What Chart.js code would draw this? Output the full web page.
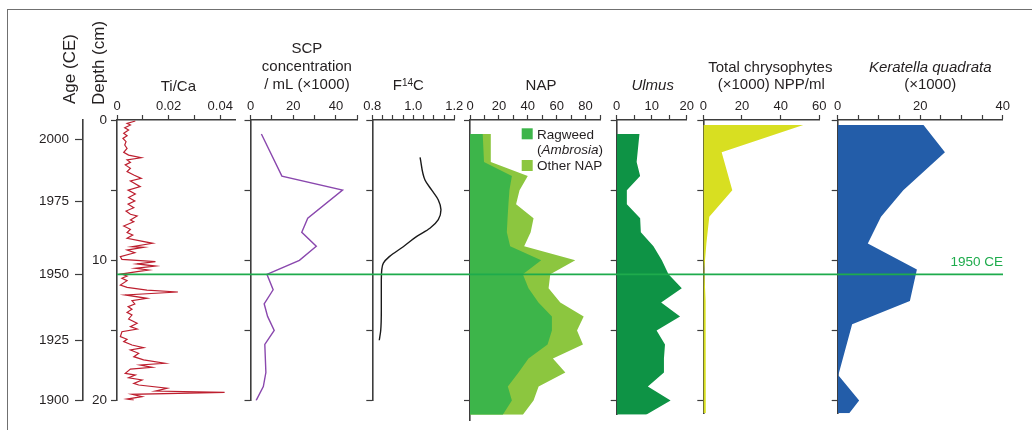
<!DOCTYPE html>
<html>
<head>
<meta charset="utf-8">
<title>Sediment core profiles</title>
<script src="https://cdn.jsdelivr.net/npm/chart.js@4.4.1/dist/chart.umd.min.js"></script>
<style>
  html, body { margin: 0; padding: 0; background: #fff; }
  #wrap { position: relative; width: 1032px; height: 430px; overflow: hidden; background: #fff; }
  #frame { position: absolute; left: 7px; top: 9px; width: 1100px; height: 500px;
           border-left: 1.5px solid #707070; border-top: 1.5px solid #707070; }
  #wrap canvas { position: absolute; left: 0; top: 0; }
</style>
</head>
<body>
<div id="wrap"><div id="frame"></div></div>
<script>
// ---------------- data ----------------
// Ti/Ca XRF ratio against core depth (cm)
const tiDepth = [0.07,0.24,0.36,0.55,0.71,0.95,1.12,1.31,1.54,1.78,2.02,2.30,2.50,2.69,2.85,3.02,3.20,3.44,3.68,3.92,
  4.16,4.35,4.75,5.00,5.27,5.53,5.77,6.00,6.25,6.49,6.72,6.84,7.13,7.25,7.55,7.79,8.03,8.20,8.43,8.62,
  8.79,9.03,9.08,9.27,9.46,9.74,9.93,10.10,10.26,10.41,10.57,10.69,10.81,10.98,11.12,11.28,11.45,11.76,11.93,12.12,
  12.26,12.47,12.71,12.88,13.11,13.30,13.49,13.71,13.90,14.18,14.49,14.73,14.90,15.09,15.44,15.63,15.80,16.04,16.23,16.39,
  16.63,16.87,17.10,17.34,17.46,17.63,17.75,18.06,18.18,18.37,18.53,18.77,18.89,19.12,19.32,19.41,19.55,19.72,19.89,19.96];
const tiCa = [0.0071,0.0039,0.0052,0.0030,0.0045,0.0026,0.0039,0.0023,0.0035,0.0030,0.0039,0.0026,0.0045,0.0094,0.0039,0.0052,0.0032,0.0052,0.0039,0.0065,
  0.0094,0.0052,0.0090,0.0043,0.0071,0.0045,0.0069,0.0043,0.0065,0.0035,0.0052,0.0078,0.0052,0.0065,0.0026,0.0052,0.0039,0.0061,0.0039,0.0090,
  0.0138,0.0058,0.0103,0.0039,0.0069,0.0013,0.0019,0.0149,0.0078,0.0149,0.0071,0.0123,0.0078,0.0017,0.0039,0.0019,0.0039,0.0013,0.0039,0.0116,
  0.0236,0.0032,0.0116,0.0058,0.0069,0.0043,0.0058,0.0039,0.0058,0.0045,0.0078,0.0052,0.0078,0.0019,0.0013,0.0039,0.0026,0.0058,0.0103,0.0052,
  0.0084,0.0065,0.0103,0.0185,0.0090,0.0136,0.0052,0.0032,0.0071,0.0045,0.0097,0.0065,0.0084,0.0194,0.0149,0.0417,0.0058,0.0097,0.0039,0.0065];

// Spheroidal carbonaceous particles (x1000 per mL)
const scpDepth = [1.0,4.0,5.0,7.0,8.0,9.0,10.0,11.0,12.1,13.1,14.0,15.0,16.0,18.0,19.0,20.0];
const scpConc  = [5.1,14.7,43.1,26.8,24.0,30.8,22.9,7.7,10.6,6.4,8.0,11.1,6.7,7.2,6.0,2.6];

// Fraction modern radiocarbon (F14C), smoothed profile
const f14cDepth = [2.66,4.28,5.0,5.7,6.4,7.1,7.72,8.3,9.03,9.74,10.2,10.7,11.6,13.5,15.0,15.7];
const f14c      = [1.033,1.057,1.090,1.122,1.135,1.122,1.081,1.017,0.951,0.883,0.854,0.846,0.844,0.844,0.841,0.834];

// Pollen samples (%)
const pollenDepth = [1,3,4,5,6,7,8,9,10,11,12,13,14,15,16,17,18,19,20,21];
const ragweed  = [8.8,9.7,29.0,27.3,26.6,26.0,25.5,27.8,49.3,36.6,40.5,47.4,56.7,56.7,53.7,40.5,33.6,26.2,29.0,22.7];
const otherNap = [5.6,4.7,11.0,7.0,5.3,18.0,16.5,9.7,23.6,19.0,13.9,15.1,22.0,17.4,24.5,16.9,32.4,21.3,15.0,13.9];
const ulmus    = [6.5,5.7,6.7,2.9,2.9,6.7,6.9,10.5,12.9,14.8,18.6,12.7,18.1,11.4,13.8,13.5,13.5,8.9,15.4,8.4];

// Non-pollen palynomorphs (x1000)
const nppDepth     = [0.36,2.3,5.0,6.9,8.8,10.65,12.9,14.56,18.2,20.0,20.9];
const chrysophytes = [51.7,9.5,15.0,3.1,1.6,0.5,1.2,1.2,1.3,1.3,1.3];
const keratella    = [20.8,26.0,15.9,10.5,7.3,19.2,17.5,3.5,0.15,5.2,2.8];

// Depth and age axes
const depthTicks  = [0,5,10,15,20];
const depthLabels = [0,10,20];
const ageLabels   = [2000,1975,1950,1925,1900];
const ageDepths   = [1.38,5.79,11.0,15.73,20.0];
const markerAge   = 1950;

// ---------------- styling ----------------
const FONT = '"Liberation Sans", Arial, Helvetica, sans-serif';
const INK = '#231f20';
const AXIS = '#3d3d3d';
const W = 1032, H = 430;
const TOP = 120;          // pixel row of depth 0
const PX_PER_CM = 14.03;  // vertical scale shared by every panel
const wrap = document.getElementById('wrap');

// Draws titles, legend swatches and other labels of a panel
const panelText = {
  id: 'panelText',
  afterDraw(chart, args, opts) {
    const items = opts.items || [];
    if (!items.length) return;
    const ctx = chart.ctx, a = chart.chartArea;
    const cx = (a.left + a.right) / 2;
    ctx.save();
    items.forEach(it => {
      if (it.rect) {
        ctx.fillStyle = it.datasetIndex !== undefined ? chart.data.datasets[it.datasetIndex].backgroundColor : it.color;
        ctx.fillRect(it.rect[0], it.rect[1], it.rect[2], it.rect[3]);
        return;
      }
      const size = it.size || 15;
      const runs = it.runs || [{ text: it.text, italic: it.italic }];
      const fonts = runs.map(r => (r.italic ? 'italic ' : '') + (r.size || size) + 'px ' + FONT);
      const widths = runs.map((r, i) => { ctx.font = fonts[i]; return ctx.measureText(r.text).width; });
      const total = widths.reduce((s, v) => s + v, 0);
      const ax = it.x !== undefined ? it.x : cx + (it.dx || 0);
      let x0 = it.align === 'left' ? 0 : it.align === 'right' ? -total : -total / 2;
      ctx.save();
      ctx.translate(ax, it.y);
      if (it.rotate) ctx.rotate(-Math.PI / 2);
      ctx.fillStyle = it.color || INK;
      ctx.textBaseline = 'alphabetic';
      ctx.textAlign = 'left';
      runs.forEach((r, i) => {
        ctx.font = fonts[i];
        ctx.fillText(r.text, x0, -(r.rise || 0));
        x0 += widths[i];
      });
      ctx.restore();
    });
    ctx.restore();
  }
};
Chart.register(panelText);

const pts = (depths, values) => depths.map((d, i) => ({ x: values[i], y: d }));

function makePanel(cfg) {
  const canvas = document.createElement('canvas');
  canvas.width = W; canvas.height = H;
  wrap.appendChild(canvas);
  const bottom = TOP + cfg.depthMax * PX_PER_CM;
  const XH = 30;
  const YW = cfg.depthAxisWidth || 10;
  const AW = cfg.ageAxisWidth || 0;
  const labelled = cfg.xLabels;
  const scales = {
    x: {
      type: 'linear', position: 'top', min: cfg.xMin, max: cfg.xMax,
      afterFit: s => { s.height = XH; },
      afterBuildTicks: s => { s.ticks = cfg.xTicks.map(v => ({ value: v })); },
      ticks: {
        autoSkip: false, maxRotation: 0, padding: 1, color: INK,
        font: { family: FONT, size: 13 },
        callback: v => labelled.includes(v) ? cfg.fmt(v) : ''
      },
      grid: { drawOnChartArea: false, drawTicks: true, tickLength: 5, tickColor: AXIS, tickWidth: 1.2 },
      border: { display: true, color: AXIS, width: 1.6 }
    },
    y: {
      type: 'linear', position: 'left', reverse: true, min: 0, max: cfg.depthMax, z: 1,
      afterFit: s => { s.width = YW; },
      afterBuildTicks: s => { s.ticks = depthTicks.map(v => ({ value: v })); },
      ticks: {
        display: !!cfg.depthLabels, padding: 4, color: INK,
        font: { family: FONT, size: 13.5 },
        callback: v => depthLabels.includes(v) ? String(v) : ''
      },
      grid: { drawOnChartArea: false, drawTicks: true, tickLength: 6, tickColor: AXIS, tickWidth: 1.2 },
      border: { display: true, color: AXIS, width: 1.6 }
    }
  };
  if (AW) {
    scales.age = {
      type: 'linear', position: 'left', reverse: true, min: 0, max: cfg.depthMax, weight: 1,
      afterFit: s => { s.width = AW; },
      afterBuildTicks: s => { s.ticks = ageDepths.map(v => ({ value: v })); },
      ticks: {
        padding: 6, color: INK, font: { family: FONT, size: 13.5 },
        callback: (v, i) => String(ageLabels[i])
      },
      grid: { drawOnChartArea: false, drawTicks: true, tickLength: 8, tickColor: AXIS, tickWidth: 1.2 },
      border: { display: true, color: AXIS, width: 1.6 }
    };
  }
  return new Chart(canvas, {
    type: 'line',
    data: { datasets: cfg.datasets },
    options: {
      responsive: false, animation: false, events: [], indexAxis: 'y',
      layout: { padding: { left: cfg.left - YW - AW, right: W - cfg.right, top: TOP - XH, bottom: H - bottom } },
      elements: { point: { radius: 0 } },
      plugins: { legend: { display: false }, tooltip: { enabled: false }, panelText: { items: cfg.text || [] } },
      scales
    }
  });
}

const area = (label, depths, values, color) => ({
  label, data: pts(depths, values), backgroundColor: color, borderColor: color,
  borderWidth: 0, fill: 'origin', tension: 0
});

// Ti/Ca with depth and age axes
makePanel({
  left: 117, right: 235.7, depthMax: 20, depthAxisWidth: 34, ageAxisWidth: 63, depthLabels: true,
  xMin: 0, xMax: 0.046, xTicks: [0, 0.01, 0.02, 0.03, 0.04], xLabels: [0, 0.02, 0.04],
  fmt: v => v === 0 ? '0' : v.toFixed(2),
  datasets: [{ label: 'Ti/Ca', data: pts(tiDepth, tiCa), borderColor: '#bd1f2f', borderWidth: 1.2, tension: 0, fill: false }],
  text: [
    { text: 'Ti/Ca', dx: 2, y: 91 },
    { text: 'Age (CE)', x: 75, y: 104, rotate: true, size: 17, align: 'left' },
    { text: 'Depth (cm)', x: 103.5, y: 105, rotate: true, size: 17, align: 'left' }
  ]
});

// SCP concentration
makePanel({
  left: 250.5, right: 357.3, depthMax: 20,
  xMin: 0, xMax: 50, xTicks: [0, 10, 20, 30, 40, 50], xLabels: [0, 20, 40], fmt: v => String(v),
  datasets: [{ label: 'SCP', data: pts(scpDepth, scpConc), borderColor: '#8a48ae', borderWidth: 1.4, tension: 0, fill: false }],
  text: [
    { text: 'SCP', dx: 3, y: 53 },
    { text: 'concentration', dx: 3, y: 71 },
    { text: '/ mL (×1000)', dx: 3, y: 89 }
  ]
});

// F14C
makePanel({
  left: 372.3, right: 454.3, depthMax: 20,
  xMin: 0.8, xMax: 1.2, xTicks: [0.8, 0.85, 0.9, 0.95, 1.0, 1.05, 1.1, 1.15, 1.2], xLabels: [0.8, 1.0, 1.2],
  fmt: v => v.toFixed(1),
  datasets: [{ label: 'F14C', data: pts(f14cDepth, f14c), borderColor: '#1a1a1a', borderWidth: 1.4,
               cubicInterpolationMode: 'monotone', fill: false }],
  text: [
    { runs: [{ text: 'F' }, { text: '14', size: 10, rise: 4 }, { text: 'C' }], dx: -5, y: 89.5 }
  ]
});

// NAP: ragweed plus other non-arboreal pollen
const napTotal = ragweed.map((v, i) => v + otherNap[i]);
makePanel({
  left: 470, right: 600, depthMax: 21.4,
  xMin: 0, xMax: 90, xTicks: [0, 10, 20, 30, 40, 50, 60, 70, 80, 90], xLabels: [0, 20, 40, 60, 80], fmt: v => String(v),
  datasets: [
    area('Ragweed (Ambrosia)', pollenDepth, ragweed, '#3db54a'),
    area('Other NAP', pollenDepth, napTotal, '#8cc63f')
  ],
  text: [
    { text: 'NAP', dx: 6, y: 89.5 },
    { rect: [521.7, 128.3, 11, 11], datasetIndex: 0 },
    { text: 'Ragweed', x: 537, y: 139, size: 13.5, align: 'left' },
    { runs: [{ text: '(' }, { text: 'Ambrosia', italic: true }, { text: ')' }], x: 537, y: 154, size: 13.5, align: 'left' },
    { rect: [521.7, 160, 11, 11], datasetIndex: 1 },
    { text: 'Other NAP', x: 537, y: 170, size: 13.5, align: 'left' }
  ]
});

// Ulmus
makePanel({
  left: 616.7, right: 686.7, depthMax: 21,
  xMin: 0, xMax: 20, xTicks: [0, 5, 10, 15, 20], xLabels: [0, 10, 20], fmt: v => String(v),
  datasets: [area('Ulmus', pollenDepth, ulmus, '#0e9345')],
  text: [{ text: 'Ulmus', italic: true, dx: 1, y: 89.5 }]
});

// Total chrysophytes
makePanel({
  left: 703.3, right: 819.3, depthMax: 20.95,
  xMin: 0, xMax: 60, xTicks: [0, 20, 40, 60], xLabels: [0, 20, 40, 60], fmt: v => String(v),
  datasets: [area('Total chrysophytes', nppDepth, chrysophytes, '#d8df21')],
  text: [
    { text: 'Total chrysophytes', dx: 9, y: 72 },
    { text: '(×1000) NPP/ml', dx: 10, y: 89 }
  ]
});

// Keratella quadrata
makePanel({
  left: 837.7, right: 1002.7, depthMax: 20.95,
  xMin: 0, xMax: 40, xTicks: [0, 5, 10, 15, 20, 25, 30, 35, 40], xLabels: [0, 20, 40], fmt: v => String(v),
  datasets: [area('Keratella quadrata', nppDepth, keratella, '#235da9')],
  text: [
    { text: 'Keratella quadrata', italic: true, dx: 10, y: 72 },
    { text: '(×1000)', dx: 10, y: 89 }
  ]
});

// 1950 CE horizon across all panels
(function () {
  const canvas = document.createElement('canvas');
  canvas.width = W; canvas.height = H;
  wrap.appendChild(canvas);
  const depth = ageDepths[ageLabels.indexOf(markerAge)];
  const left = 117, right = 1003, depthMax = 20;
  new Chart(canvas, {
    type: 'line',
    data: { datasets: [{ label: markerAge + ' CE', data: [{ x: 0, y: depth }, { x: 1, y: depth }],
                         borderColor: '#1eab4c', borderWidth: 1.7, fill: false }] },
    options: {
      responsive: false, animation: false, events: [],
      layout: { padding: { left, right: W - right, top: TOP, bottom: H - (TOP + depthMax * PX_PER_CM) } },
      elements: { point: { radius: 0 } },
      plugins: { legend: { display: false }, tooltip: { enabled: false },
        panelText: { items: [{ text: markerAge + ' CE', x: right, y: TOP + depth * PX_PER_CM - 8, size: 13.5, align: 'right', color: '#1eab4c' }] } },
      scales: {
        x: { type: 'linear', min: 0, max: 1, display: false },
        y: { type: 'linear', min: 0, max: depthMax, reverse: true, display: false }
      }
    }
  });
})();
</script>
</body>
</html>
